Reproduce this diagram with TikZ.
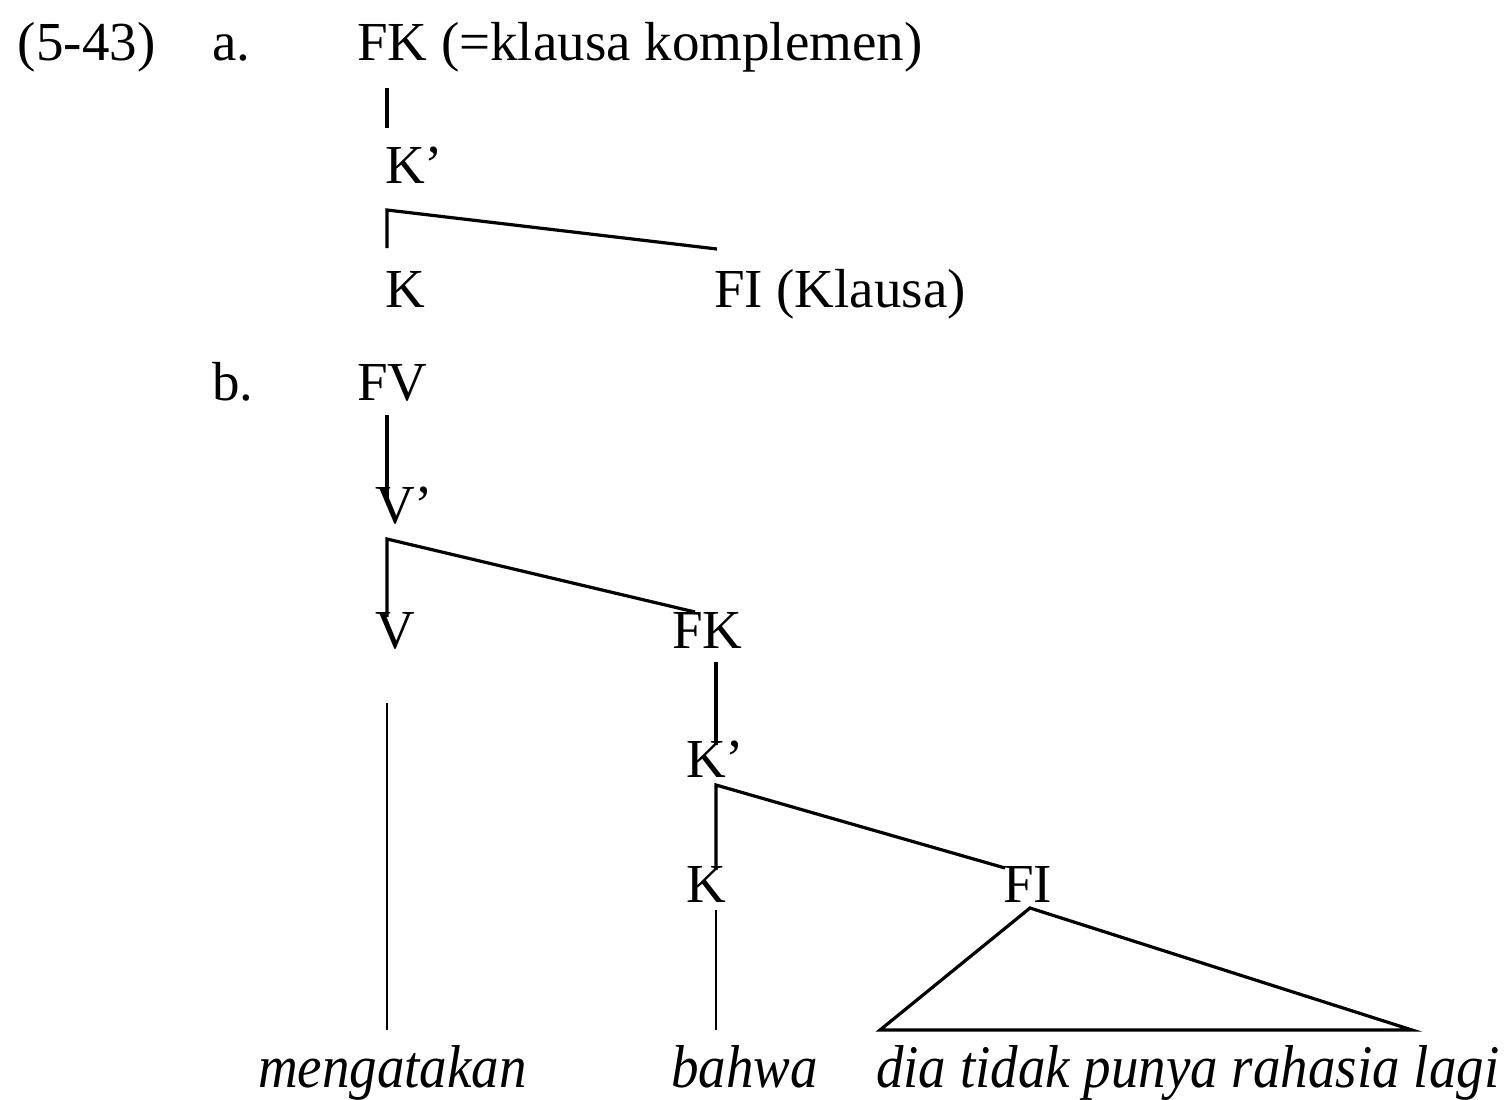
\documentclass[tikz,border=0pt]{standalone}
\usepackage{fontspec}
\setmainfont{Liberation Serif}
\begin{document}
\begin{tikzpicture}[x=0.5pt,y=-0.5pt,
  lbl/.style={anchor=base west,inner sep=0pt,outer sep=0pt,font=\fontsize{27.5}{33}\selectfont},
  word/.style={anchor=base west,inner sep=0pt,outer sep=0pt,font=\fontsize{27.5}{33}\selectfont\itshape},
  branch/.style={line width=1.6pt,line join=miter},
  stem/.style={line width=1.1pt}]
\useasboundingbox (0,0) rectangle (1506,1099);

% example number and sub-labels
\node[lbl] (num) at (18,60) {(5-43)};
\node[lbl] (la) at (212,60) {a.};
\node[lbl] (lb) at (212,400) {b.};

% tree (a)
\node[lbl] (FKa) at (357,60) {FK (=klausa komplemen)};
\node[lbl] (Kpa) at (385,183) {K’};
\node[lbl] (Ka) at (385,307) {K};
\node[lbl] (FIa) at (714,307) {FI (Klausa)};

\coordinate (a1t) at (387,88);
\coordinate (a1b) at (387,128);
\coordinate (a2c) at (387,210);
\coordinate (a2l) at (387,248);
\coordinate (a2r) at (717,249);
\draw[branch] (a1t) -- (a1b);
\draw[branch] (a2l) -- (a2c) -- (a2r);

% tree (b)
\node[lbl] (FV) at (357,400) {FV};
\node[lbl] (Vp) at (375,523) {V’};
\node[lbl] (V) at (375,648) {V};
\node[lbl] (FKb) at (672,648) {FK};
\node[lbl] (Kpb) at (686,777) {K’};
\node[lbl] (Kb) at (686,902) {K};
\node[lbl] (FIb) at (1003,902) {FI};

\coordinate (b1t) at (387,415);
\coordinate (b1b) at (387,502);
\coordinate (b2c) at (387,539);
\coordinate (b2l) at (387,617);
\coordinate (b2r) at (695,612);
\coordinate (b3t) at (716,662);
\coordinate (b3b) at (716,745);
\coordinate (b4c) at (716,785);
\coordinate (b4l) at (716,870);
\coordinate (b4r) at (1005,868);
\draw[branch] (b1t) -- (b1b);
\draw[branch] (b2l) -- (b2c) -- (b2r);
\draw[branch] (b3t) -- (b3b);
\draw[branch] (b4l) -- (b4c) -- (b4r);

% terminal words
\node[word] (w1) at (258,1087) {\scalebox{1}[1.1]{mengatakan}};
\node[word] (w2) at (671,1087) {\scalebox{1}[1.1]{bahwa}};
\node[word] (w3) at (876,1087) {\scalebox{1}[1.1]{dia tidak punya rahasia lagi}};

\coordinate (vt) at (387,703);
\coordinate (vb) at (387,1030);
\coordinate (kt) at (716,910);
\coordinate (kb) at (716,1030);
\draw[stem] (vt) -- (vb);
\draw[stem] (kt) -- (kb);

\coordinate (ta) at (1030,908);
\coordinate (tl) at (880,1030);
\coordinate (tr) at (1412,1030);
\draw[branch] (ta) -- (tl) -- (tr) -- cycle;
\end{tikzpicture}
\end{document}
